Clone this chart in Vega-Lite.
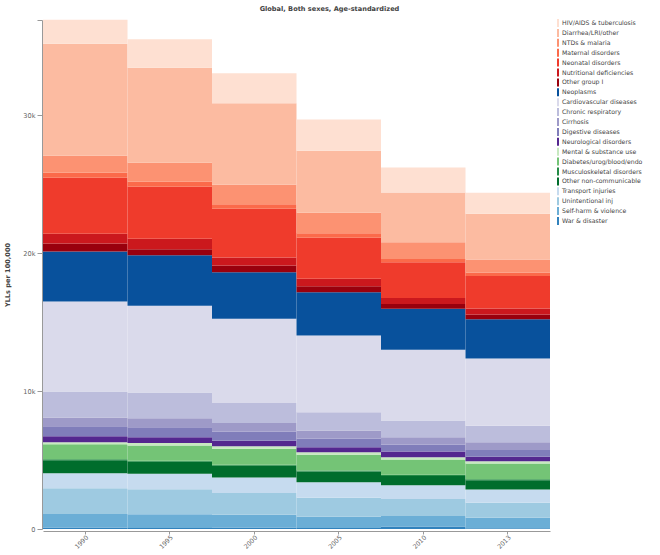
{
  "$schema": "https://vega.github.io/schema/vega-lite/v6.json",
  "width": 507,
  "height": 509,
  "autosize": "none",
  "padding": {"left": 43, "top": 20, "right": 110, "bottom": 26},
  "background": "white",
  "config": {"view": {"stroke": null}, "font": "DejaVu Sans"},
  "title": {"text": "Global, Both sexes, Age-standardized", "fontSize": 6.6, "fontWeight": "bold", "color": "#444", "anchor": "middle", "frame": "group", "dx": 33, "offset": 6},
  "data": {"values": [
    {"year":"1990","cause":"War & disaster","o":1,"v":100},
    {"year":"1995","cause":"War & disaster","o":1,"v":70},
    {"year":"2000","cause":"War & disaster","o":1,"v":100},
    {"year":"2005","cause":"War & disaster","o":1,"v":70},
    {"year":"2010","cause":"War & disaster","o":1,"v":180},
    {"year":"2013","cause":"War & disaster","o":1,"v":50},
    {"year":"1990","cause":"Self-harm & violence","o":2,"v":980},
    {"year":"1995","cause":"Self-harm & violence","o":2,"v":1000},
    {"year":"2000","cause":"Self-harm & violence","o":2,"v":940},
    {"year":"2005","cause":"Self-harm & violence","o":2,"v":820},
    {"year":"2010","cause":"Self-harm & violence","o":2,"v":760},
    {"year":"2013","cause":"Self-harm & violence","o":2,"v":760},
    {"year":"1990","cause":"Unintentional inj","o":3,"v":1880},
    {"year":"1995","cause":"Unintentional inj","o":3,"v":1810},
    {"year":"2000","cause":"Unintentional inj","o":3,"v":1570},
    {"year":"2005","cause":"Unintentional inj","o":3,"v":1380},
    {"year":"2010","cause":"Unintentional inj","o":3,"v":1230},
    {"year":"2013","cause":"Unintentional inj","o":3,"v":1090},
    {"year":"1990","cause":"Transport injuries","o":4,"v":1090},
    {"year":"1995","cause":"Transport injuries","o":4,"v":1120},
    {"year":"2000","cause":"Transport injuries","o":4,"v":1130},
    {"year":"2005","cause":"Transport injuries","o":4,"v":1120},
    {"year":"2010","cause":"Transport injuries","o":4,"v":1010},
    {"year":"2013","cause":"Transport injuries","o":4,"v":960},
    {"year":"1990","cause":"Other non-communicable","o":5,"v":940},
    {"year":"1995","cause":"Other non-communicable","o":5,"v":870},
    {"year":"2000","cause":"Other non-communicable","o":5,"v":850},
    {"year":"2005","cause":"Other non-communicable","o":5,"v":770},
    {"year":"2010","cause":"Other non-communicable","o":5,"v":670},
    {"year":"2013","cause":"Other non-communicable","o":5,"v":670},
    {"year":"1990","cause":"Musculoskeletal disorders","o":6,"v":70},
    {"year":"1995","cause":"Musculoskeletal disorders","o":6,"v":80},
    {"year":"2000","cause":"Musculoskeletal disorders","o":6,"v":70},
    {"year":"2005","cause":"Musculoskeletal disorders","o":6,"v":80},
    {"year":"2010","cause":"Musculoskeletal disorders","o":6,"v":80},
    {"year":"2013","cause":"Musculoskeletal disorders","o":6,"v":80},
    {"year":"1990","cause":"Diabetes/urog/blood/endo","o":7,"v":1090},
    {"year":"1995","cause":"Diabetes/urog/blood/endo","o":7,"v":1110},
    {"year":"2000","cause":"Diabetes/urog/blood/endo","o":7,"v":1160},
    {"year":"2005","cause":"Diabetes/urog/blood/endo","o":7,"v":1140},
    {"year":"2010","cause":"Diabetes/urog/blood/endo","o":7,"v":1110},
    {"year":"2013","cause":"Diabetes/urog/blood/endo","o":7,"v":1140},
    {"year":"1990","cause":"Mental & substance use","o":8,"v":140},
    {"year":"1995","cause":"Mental & substance use","o":8,"v":180},
    {"year":"2000","cause":"Mental & substance use","o":8,"v":170},
    {"year":"2005","cause":"Mental & substance use","o":8,"v":190},
    {"year":"2010","cause":"Mental & substance use","o":8,"v":170},
    {"year":"2013","cause":"Mental & substance use","o":8,"v":170},
    {"year":"1990","cause":"Neurological disorders","o":9,"v":430},
    {"year":"1995","cause":"Neurological disorders","o":9,"v":410},
    {"year":"2000","cause":"Neurological disorders","o":9,"v":410},
    {"year":"2005","cause":"Neurological disorders","o":9,"v":360},
    {"year":"2010","cause":"Neurological disorders","o":9,"v":410},
    {"year":"2013","cause":"Neurological disorders","o":9,"v":310},
    {"year":"1990","cause":"Digestive diseases","o":10,"v":720},
    {"year":"1995","cause":"Digestive diseases","o":10,"v":720},
    {"year":"2000","cause":"Digestive diseases","o":10,"v":670},
    {"year":"2005","cause":"Digestive diseases","o":10,"v":610},
    {"year":"2010","cause":"Digestive diseases","o":10,"v":490},
    {"year":"2013","cause":"Digestive diseases","o":10,"v":490},
    {"year":"1990","cause":"Cirrhosis","o":11,"v":650},
    {"year":"1995","cause":"Cirrhosis","o":11,"v":650},
    {"year":"2000","cause":"Cirrhosis","o":11,"v":610},
    {"year":"2005","cause":"Cirrhosis","o":11,"v":600},
    {"year":"2010","cause":"Cirrhosis","o":11,"v":550},
    {"year":"2013","cause":"Cirrhosis","o":11,"v":560},
    {"year":"1990","cause":"Chronic respiratory","o":12,"v":1880},
    {"year":"1995","cause":"Chronic respiratory","o":12,"v":1880},
    {"year":"2000","cause":"Chronic respiratory","o":12,"v":1450},
    {"year":"2005","cause":"Chronic respiratory","o":12,"v":1330},
    {"year":"2010","cause":"Chronic respiratory","o":12,"v":1210},
    {"year":"2013","cause":"Chronic respiratory","o":12,"v":1200},
    {"year":"1990","cause":"Cardiovascular diseases","o":13,"v":6520},
    {"year":"1995","cause":"Cardiovascular diseases","o":13,"v":6280},
    {"year":"2000","cause":"Cardiovascular diseases","o":13,"v":6110},
    {"year":"2005","cause":"Cardiovascular diseases","o":13,"v":5560},
    {"year":"2010","cause":"Cardiovascular diseases","o":13,"v":5120},
    {"year":"2013","cause":"Cardiovascular diseases","o":13,"v":4880},
    {"year":"1990","cause":"Neoplasms","o":14,"v":3620},
    {"year":"1995","cause":"Neoplasms","o":14,"v":3670},
    {"year":"2000","cause":"Neoplasms","o":14,"v":3380},
    {"year":"2005","cause":"Neoplasms","o":14,"v":3140},
    {"year":"2010","cause":"Neoplasms","o":14,"v":2970},
    {"year":"2013","cause":"Neoplasms","o":14,"v":2850},
    {"year":"1990","cause":"Other group I","o":15,"v":580},
    {"year":"1995","cause":"Other group I","o":15,"v":430},
    {"year":"2000","cause":"Other group I","o":15,"v":480},
    {"year":"2005","cause":"Other group I","o":15,"v":430},
    {"year":"2010","cause":"Other group I","o":15,"v":360},
    {"year":"2013","cause":"Other group I","o":15,"v":340},
    {"year":"1990","cause":"Nutritional deficiencies","o":16,"v":720},
    {"year":"1995","cause":"Nutritional deficiencies","o":16,"v":770},
    {"year":"2000","cause":"Nutritional deficiencies","o":16,"v":580},
    {"year":"2005","cause":"Nutritional deficiencies","o":16,"v":540},
    {"year":"2010","cause":"Nutritional deficiencies","o":16,"v":430},
    {"year":"2013","cause":"Nutritional deficiencies","o":16,"v":430},
    {"year":"1990","cause":"Neonatal disorders","o":17,"v":4060},
    {"year":"1995","cause":"Neonatal disorders","o":17,"v":3770},
    {"year":"2000","cause":"Neonatal disorders","o":17,"v":3530},
    {"year":"2005","cause":"Neonatal disorders","o":17,"v":2970},
    {"year":"2010","cause":"Neonatal disorders","o":17,"v":2580},
    {"year":"2013","cause":"Neonatal disorders","o":17,"v":2360},
    {"year":"1990","cause":"Maternal disorders","o":18,"v":360},
    {"year":"1995","cause":"Maternal disorders","o":18,"v":360},
    {"year":"2000","cause":"Maternal disorders","o":18,"v":340},
    {"year":"2005","cause":"Maternal disorders","o":18,"v":330},
    {"year":"2010","cause":"Maternal disorders","o":18,"v":250},
    {"year":"2013","cause":"Maternal disorders","o":18,"v":250},
    {"year":"1990","cause":"NTDs & malaria","o":19,"v":1230},
    {"year":"1995","cause":"NTDs & malaria","o":19,"v":1380},
    {"year":"2000","cause":"NTDs & malaria","o":19,"v":1400},
    {"year":"2005","cause":"NTDs & malaria","o":19,"v":1480},
    {"year":"2010","cause":"NTDs & malaria","o":19,"v":1200},
    {"year":"2013","cause":"NTDs & malaria","o":19,"v":940},
    {"year":"1990","cause":"Diarrhea/LRI/other","o":20,"v":8120},
    {"year":"1995","cause":"Diarrhea/LRI/other","o":20,"v":6880},
    {"year":"2000","cause":"Diarrhea/LRI/other","o":20,"v":5920},
    {"year":"2005","cause":"Diarrhea/LRI/other","o":20,"v":4510},
    {"year":"2010","cause":"Diarrhea/LRI/other","o":20,"v":3620},
    {"year":"2013","cause":"Diarrhea/LRI/other","o":20,"v":3330},
    {"year":"1990","cause":"HIV/AIDS & tuberculosis","o":21,"v":1740},
    {"year":"1995","cause":"HIV/AIDS & tuberculosis","o":21,"v":2060},
    {"year":"2000","cause":"HIV/AIDS & tuberculosis","o":21,"v":2170},
    {"year":"2005","cause":"HIV/AIDS & tuberculosis","o":21,"v":2250},
    {"year":"2010","cause":"HIV/AIDS & tuberculosis","o":21,"v":1810},
    {"year":"2013","cause":"HIV/AIDS & tuberculosis","o":21,"v":1520}
  ]},
  "mark": {"type": "bar"},
  "encoding": {
    "x": {
      "field": "year", "type": "ordinal",
      "scale": {"paddingInner": 0, "paddingOuter": 0},
      "axis": {"title": null, "labelAngle": -45, "labelFontSize": 6.3, "labelColor": "#666", "domainColor": "#999", "tickColor": "#999", "tickSize": 3, "offset": 2, "labelPadding": 0}
    },
    "y": {
      "field": "v", "type": "quantitative", "stack": "zero",
      "scale": {"domain": [0, 36900], "nice": false},
      "axis": {
        "title": "YLLs per 100,000", "titleFontSize": 6.6, "titleFontWeight": "bold", "titleColor": "#444",
        "titleX": -35, "titleBaseline": "middle",
        "values": [0, 10000, 20000, 30000, 36900],
        "labelExpr": "datum.value == 36900 ? '' : (datum.value == 0 ? '0' : format(datum.value / 1000, 'd') + 'k')",
        "labelFontSize": 6.6, "labelColor": "#666", "domainColor": "#999", "tickColor": "#999", "tickSize": 5, "grid": false, "offset": 1
      }
    },
    "color": {
      "field": "cause", "type": "nominal",
      "scale": {
        "domain": ["HIV/AIDS & tuberculosis", "Diarrhea/LRI/other", "NTDs & malaria", "Maternal disorders", "Neonatal disorders", "Nutritional deficiencies", "Other group I", "Neoplasms", "Cardiovascular diseases", "Chronic respiratory", "Cirrhosis", "Digestive diseases", "Neurological disorders", "Mental & substance use", "Diabetes/urog/blood/endo", "Musculoskeletal disorders", "Other non-communicable", "Transport injuries", "Unintentional inj", "Self-harm & violence", "War & disaster"],
        "range": ["#fee0d2", "#fcbba1", "#fc9272", "#fb6a4a", "#ef3b2c", "#cb181d", "#99000d", "#08519c", "#dadaeb", "#bcbddc", "#9e9ac8", "#807dba", "#54278f", "#c7e9c0", "#74c476", "#238b45", "#006d2c", "#c6dbef", "#9ecae1", "#6baed6", "#3182bd"]
      },
      "legend": {
        "title": null, "orient": "none", "legendX": 511, "legendY": -1,
        "symbolType": "M -0.25 -1 L 0.25 -1 L 0.25 1 L -0.25 1 Z",
        "symbolSize": 64, "symbolStrokeWidth": 0, "symbolOpacity": 1,
        "labelFontSize": 6.2, "labelColor": "#444", "labelOffset": 0, "rowPadding": 1.9,
        "labelLimit": 120
      }
    },
    "order": {"field": "o", "type": "quantitative", "sort": "ascending"}
  }
}
